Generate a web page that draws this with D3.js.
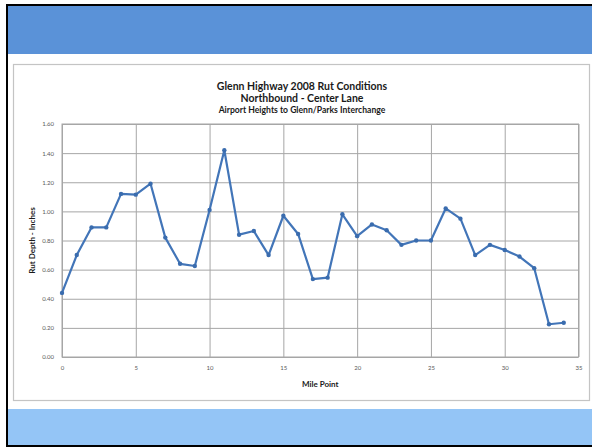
<!DOCTYPE html>
<html>
<head>
<meta charset="utf-8">
<script src="https://cdn.jsdelivr.net/npm/d3@7"></script>
<style>
  html, body { margin: 0; padding: 0; background: #ffffff; }
  svg { display: block; }
</style>
</head>
<body>
<svg id="chart" width="592" height="447"></svg>
<script>
// Rut depth survey, one reading per mile point
const milePoints = [0, 1, 2, 3, 4, 5, 6, 7, 8, 9, 10, 11, 12, 13, 14, 15, 16, 17,
                    18, 19, 20, 21, 22, 23, 24, 25, 26, 27, 28, 29, 30, 31, 32, 33, 34];
const rutDepth = [0.44, 0.70, 0.89, 0.89, 1.12, 1.115, 1.19, 0.82, 0.64, 0.625, 1.01, 1.42,
                  0.84, 0.865, 0.70, 0.97, 0.845, 0.535, 0.545, 0.98, 0.83, 0.91, 0.87,
                  0.77, 0.80, 0.80, 1.02, 0.95, 0.70, 0.77, 0.735, 0.69, 0.61, 0.225, 0.235];
const xTicks = [0, 5, 10, 15, 20, 25, 30, 35];
const yTicks = [0, 0.2, 0.4, 0.6, 0.8, 1.0, 1.2, 1.4, 1.6];
const titleLines = ["Glenn Highway 2008 Rut Conditions", "Northbound - Center Lane"];
const subTitle = "Airport Heights to Glenn/Parks Interchange";
const xTitle = "Mile Point";
const yTitle = "Rut Depth - Inches";

const svg = d3.select("#chart");
const font = "Lato, 'Open Sans', sans-serif";

// slide frame
svg.append("rect").attr("x", 7).attr("y", 5).attr("width", 600).attr("height", 441)
  .attr("fill", "#ffffff").attr("stroke", "#000000").attr("stroke-width", 2);
svg.append("rect").attr("x", 8).attr("y", 6).attr("width", 584).attr("height", 48)
  .attr("fill", "#5a92d8");
svg.append("rect").attr("x", 8).attr("y", 409).attr("width", 584).attr("height", 36)
  .attr("fill", "#94c5f6");

// chart container
svg.append("rect").attr("x", 13.5).attr("y", 64.5).attr("width", 576).attr("height", 336)
  .attr("fill", "#ffffff").attr("stroke", "#c4c4c4").attr("stroke-width", 1.2);

const plot = { left: 62, right: 578.5, top: 124, bottom: 357 };

const x = d3.scaleLinear().domain([0, 35]).range([plot.left, plot.right]);
const y = d3.scaleLinear().domain([0, 1.6]).range([plot.bottom, plot.top]);

// gridlines
const gridColor = "#a6a6a6";
svg.append("g")
  .attr("transform", `translate(0,${plot.bottom})`)
  .call(d3.axisBottom(x).tickValues(xTicks).tickSize(-(plot.bottom - plot.top)).tickFormat(""))
  .call(g => g.select(".domain").remove())
  .call(g => g.selectAll("line").attr("stroke", gridColor).attr("stroke-width", 1));
svg.append("g")
  .attr("transform", `translate(${plot.left},0)`)
  .call(d3.axisLeft(y).tickValues(yTicks).tickSize(-(plot.right - plot.left)).tickFormat(""))
  .call(g => g.select(".domain").remove())
  .call(g => g.selectAll("line").attr("stroke", gridColor).attr("stroke-width", 1));

// plot area border
svg.append("rect")
  .attr("x", plot.left).attr("y", plot.top)
  .attr("width", plot.right - plot.left).attr("height", plot.bottom - plot.top)
  .attr("fill", "none").attr("stroke", gridColor).attr("stroke-width", 1);

// tick labels
const xAxis = svg.append("g")
  .attr("transform", `translate(0,${plot.bottom})`)
  .call(d3.axisBottom(x).tickValues(xTicks).tickSize(0).tickPadding(9).tickFormat(d3.format("d")));
xAxis.select(".domain").remove();
xAxis.selectAll("text").attr("font-family", font).attr("font-size", 6).attr("fill", "#595959");

const yAxis = svg.append("g")
  .attr("transform", `translate(${plot.left},0)`)
  .call(d3.axisLeft(y).tickValues(yTicks).tickSize(0).tickPadding(8).tickFormat(d3.format(".2f")));
yAxis.select(".domain").remove();
yAxis.selectAll("text").attr("font-family", font).attr("font-size", 6).attr("fill", "#595959");

// series
const pts = milePoints.map((m, i) => [m, rutDepth[i]]);
svg.append("path")
  .datum(pts)
  .attr("fill", "none")
  .attr("stroke", "#4275b8")
  .attr("stroke-width", 2.2)
  .attr("stroke-linejoin", "round")
  .attr("d", d3.line().x(d => x(d[0])).y(d => y(d[1])));
svg.append("g").selectAll("circle")
  .data(pts)
  .join("circle")
  .attr("cx", d => x(d[0]))
  .attr("cy", d => y(d[1]))
  .attr("r", 2.2)
  .attr("fill", "#3a6cae");

// titles
const cx = 302;
svg.append("text").attr("x", cx).attr("y", 90).attr("text-anchor", "middle")
  .attr("font-family", font).attr("font-weight", "bold").attr("font-size", 10.5)
  .attr("fill", "#1a1a1a").text(titleLines[0]);
svg.append("text").attr("x", cx).attr("y", 102).attr("text-anchor", "middle")
  .attr("font-family", font).attr("font-weight", "bold").attr("font-size", 10.5)
  .attr("fill", "#1a1a1a").text(titleLines[1]);
svg.append("text").attr("x", cx).attr("y", 113).attr("text-anchor", "middle")
  .attr("font-family", font).attr("font-weight", "bold").attr("font-size", 8.6)
  .attr("fill", "#1a1a1a").text(subTitle);

svg.append("text").attr("x", (plot.left + plot.right) / 2).attr("y", 387)
  .attr("text-anchor", "middle")
  .attr("font-family", font).attr("font-weight", "bold").attr("font-size", 8)
  .attr("fill", "#1a1a1a").text(xTitle);

svg.append("text")
  .attr("transform", `translate(35,${(plot.top + plot.bottom) / 2}) rotate(-90)`)
  .attr("text-anchor", "middle")
  .attr("font-family", font).attr("font-weight", "bold").attr("font-size", 8)
  .attr("fill", "#1a1a1a").text(yTitle);
</script>
</body>
</html>
